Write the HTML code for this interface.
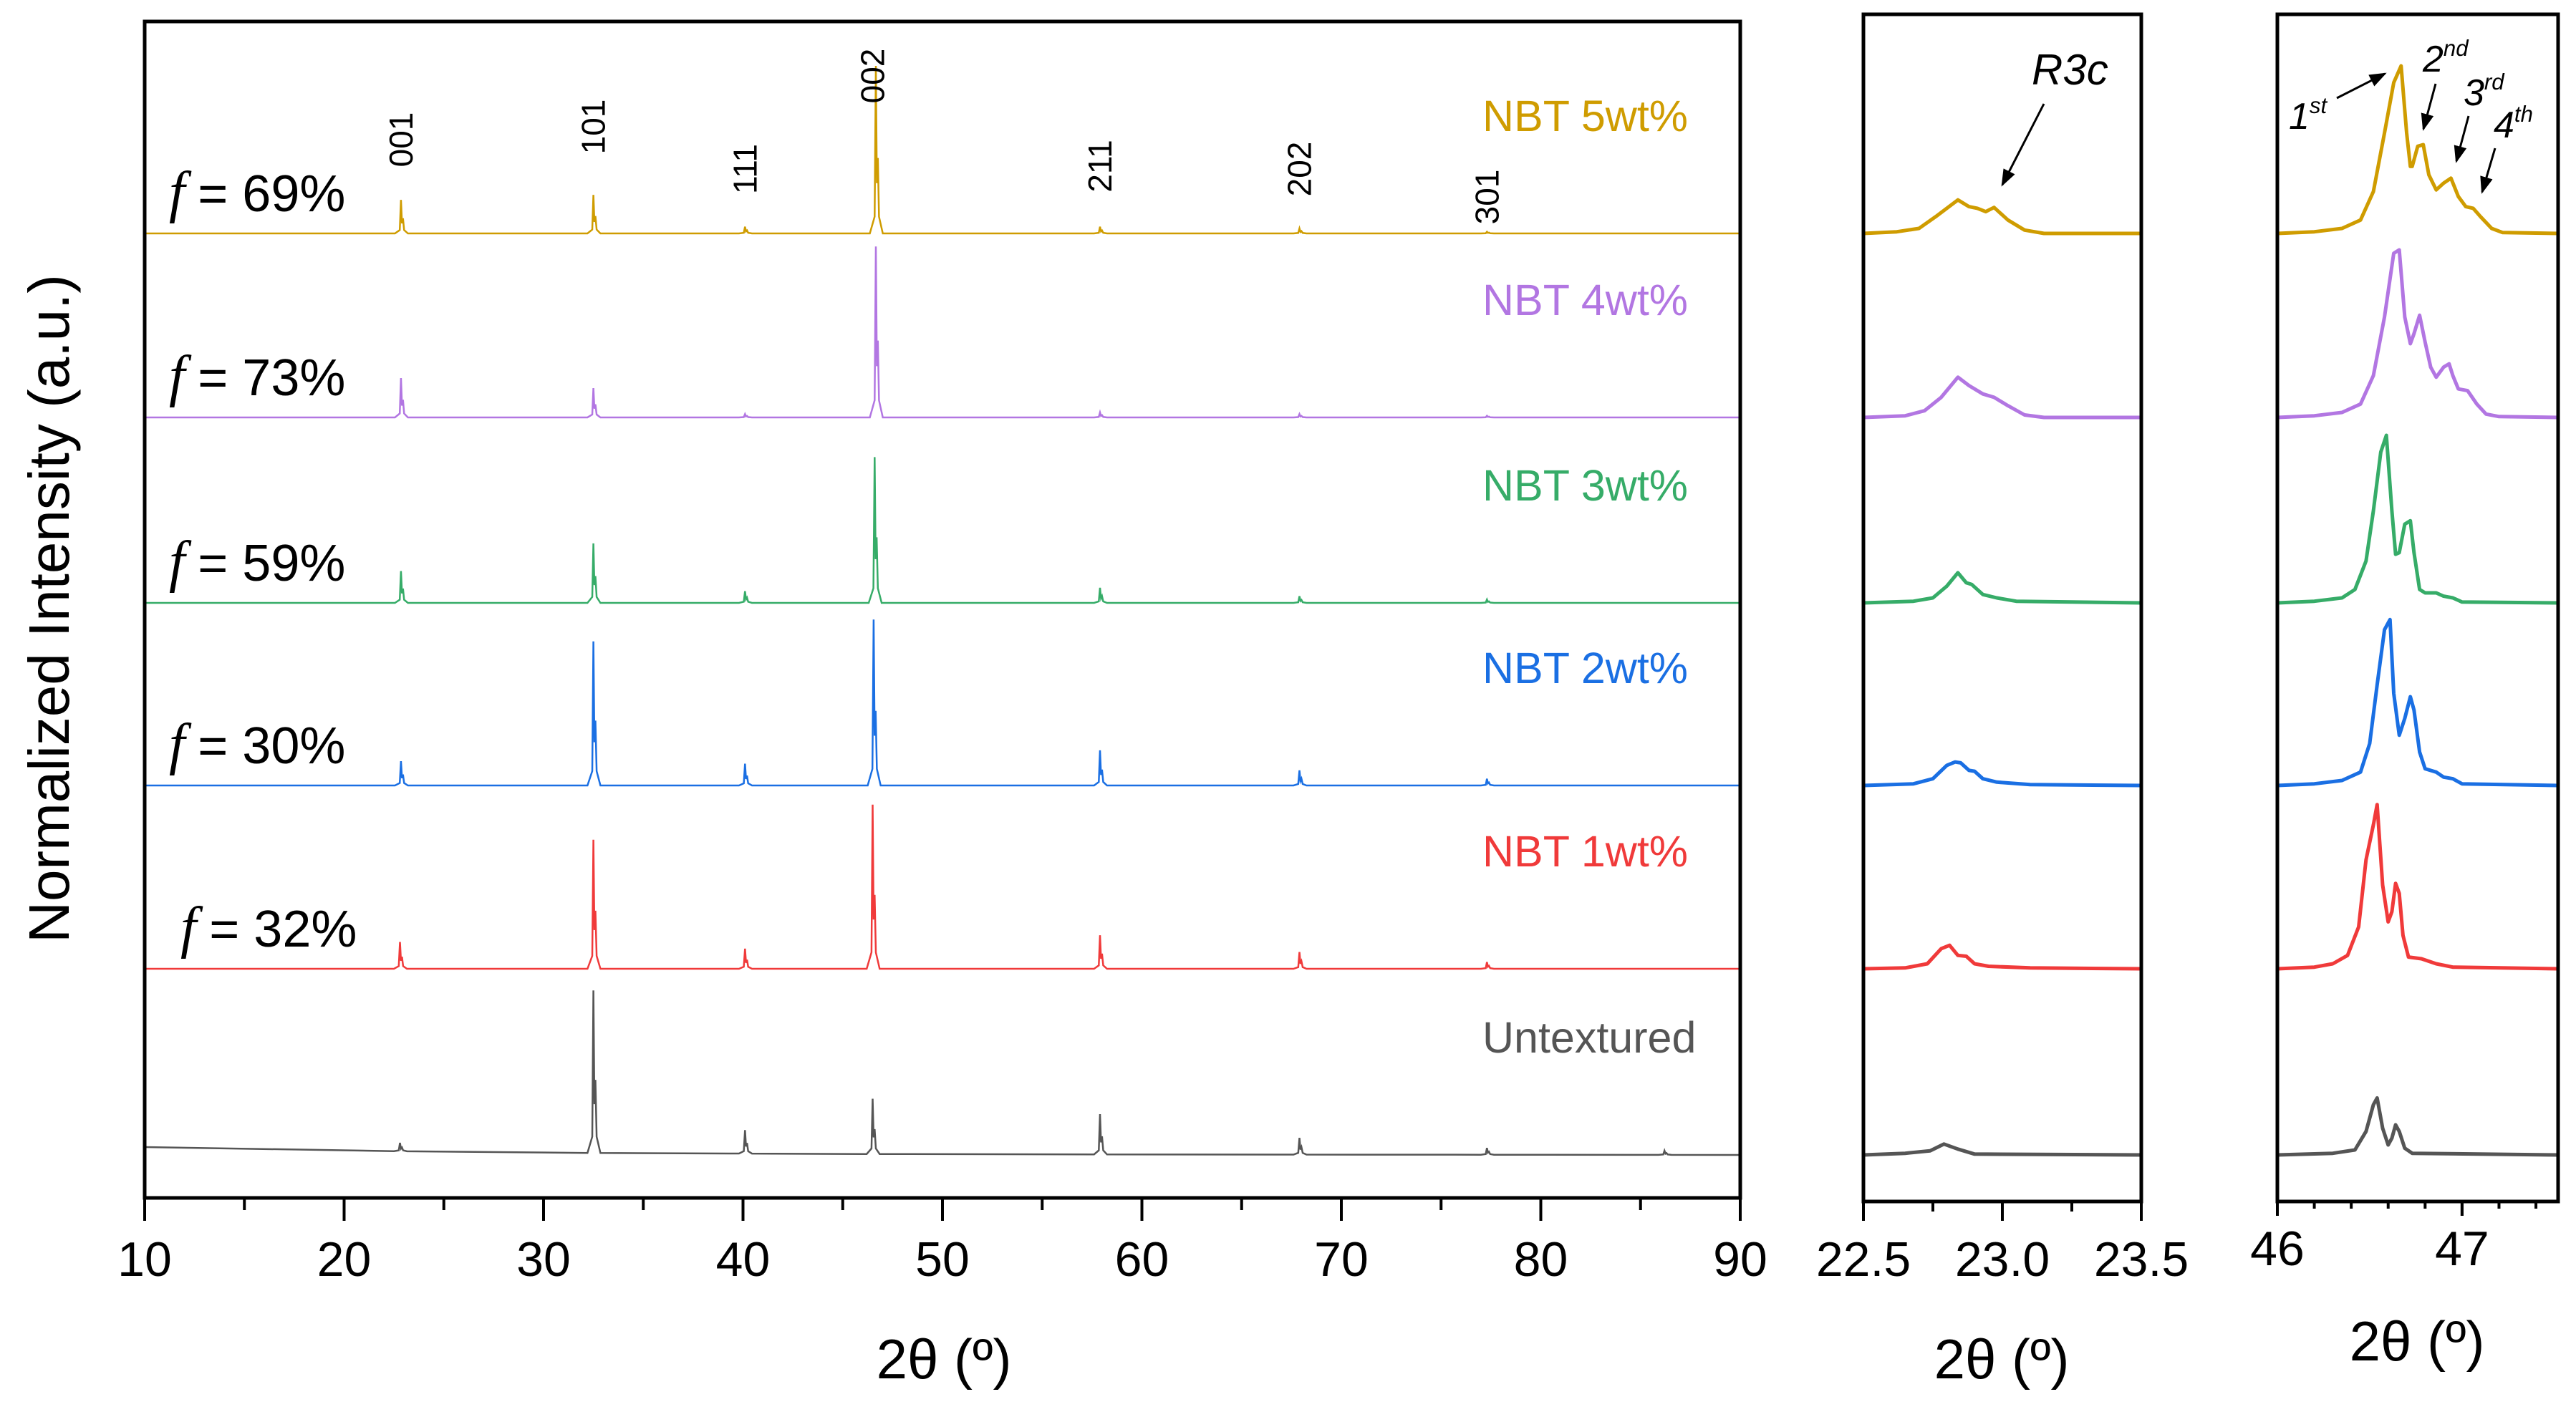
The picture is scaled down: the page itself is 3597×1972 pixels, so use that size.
<!DOCTYPE html>
<html><head><meta charset="utf-8"><style>
html,body{margin:0;padding:0;background:#fff;}
svg{display:block;font-family:"Liberation Sans",sans-serif;}
</style></head><body>
<svg id="chart" width="3597" height="1972" viewBox="0 0 3597 1972" xmlns="http://www.w3.org/2000/svg">
<g id="main"></g>
<g id="p2"></g>
<g id="p3"></g>
<text transform="translate(96,850) rotate(-90)" text-anchor="middle" font-size="80">Normalized Intensity (a.u.)</text>
<text x="1318" y="1925" text-anchor="middle" font-size="78">2θ (º)</text>
<text x="2795" y="1925" text-anchor="middle" font-size="78">2θ (º)</text>
<text x="3375" y="1900" text-anchor="middle" font-size="78">2θ (º)</text>
</svg>
<script>
// ---- data ----
const seriesNames = ["NBT 5wt%","NBT 4wt%","NBT 3wt%","NBT 2wt%","NBT 1wt%","Untextured"];
const seriesColors = ["#cf9c00","#b276e2","#36ac68","#1a6fe3","#f03a3a","#555555"];
const fLabels = ["= 69%","= 73%","= 59%","= 30%","= 32%",null];
const peakPos5 = [22.85,32.5,40.1,46.66,57.9,67.9,77.3];
const peakH5 = [20,23,4,100,4,3,1];
const peakPos4 = [22.85,32.5,40.1,46.66,57.9,67.9,77.3];
const peakH4 = [23.5,17.5,2,102,3,2,1];
const peakPos3 = [22.85,32.5,40.1,46.6,57.9,67.9,77.3];
const peakH3 = [19,35.5,7,87,9,4,2];
const peakPos2 = [22.85,32.5,40.1,46.55,57.9,67.9,77.3];
const peakH2 = [14.5,86,13,99,21,9,4];
const peakPos1 = [22.8,32.5,40.1,46.5,57.9,67.9,77.3];
const peakH1 = [16,77,12,98,20,10,4];
const peakPosU = [22.8,32.5,40.1,46.5,57.9,67.9,77.3,86.2];
const peakHU = [5,97,14,33,24,10,4,2.5];
const bgX = [10,20,30,50,90];
const bgU = [4.7,2.6,1.3,0.4,0];
const hklLabels = ["001","101","111","002","211","202","301"];
const hklPos = [22.85,32.5,40.1,46.5,57.9,67.9,77.3];
const mainTicks = [10,20,30,40,50,60,70,80,90];
const p2Ticks = ["22.5","23.0","23.5"];
const p3Ticks = ["46","47"];
const ins2Gold = [[22.5,0],[22.62,1],[22.7,3],[22.76,10],[22.84,20],[22.88,16],[22.91,15],[22.94,13],[22.97,15.5],[23.02,8],[23.08,2],[23.15,0],[23.5,0]];
const ins2Purple = [[22.5,0],[22.65,1],[22.72,4],[22.78,12],[22.84,24],[22.88,19],[22.93,14],[22.97,12],[23.02,7],[23.08,1.5],[23.15,0],[23.5,0]];
const ins2Green = [[22.5,0],[22.68,1],[22.75,3],[22.8,10],[22.84,18],[22.87,12],[22.89,11],[22.93,5],[22.98,3],[23.05,1],[23.5,0]];
const ins2Blue = [[22.5,0],[22.68,1],[22.75,4],[22.8,12],[22.83,14],[22.85,13.5],[22.88,9],[22.9,8.5],[22.93,4],[22.98,2],[23.1,0.5],[23.5,0]];
const ins2Red = [[22.5,0],[22.65,0.5],[22.73,3],[22.78,12],[22.81,14],[22.84,8],[22.87,7.5],[22.9,3],[22.95,1.5],[23.1,0.5],[23.5,0]];
const ins2Gray = [[22.5,0],[22.65,1],[22.74,2.5],[22.79,6.5],[22.84,3.5],[22.9,0.5],[23.5,0]];
const ins3Gold = [[46,0],[46.2,1],[46.35,3],[46.45,8],[46.52,25],[46.58,60],[46.63,90],[46.67,100],[46.7,60],[46.72,40],[46.73,40],[46.76,52],[46.79,53],[46.82,35],[46.86,26],[46.9,30],[46.94,33],[46.98,22],[47.02,16],[47.06,15],[47.1,10],[47.16,3],[47.22,0.5],[47.52,0]];
const ins3Purple = [[46,0],[46.2,1],[46.35,3],[46.45,8],[46.52,25],[46.58,60],[46.63,98],[46.66,100],[46.69,60],[46.72,44],[46.74,50],[46.77,61],[46.8,45],[46.83,30],[46.86,24],[46.9,30],[46.93,32],[46.95,25],[46.98,17],[47.03,16],[47.08,8],[47.13,2],[47.2,0.5],[47.52,0]];
const ins3Green = [[46,0],[46.2,1],[46.35,3],[46.42,8],[46.48,25],[46.52,55],[46.56,90],[46.59,100],[46.62,55],[46.64,29],[46.66,30],[46.69,47],[46.72,49],[46.74,30],[46.77,8],[46.8,6],[46.86,6],[46.9,4],[46.95,3],[47.0,0.5],[47.52,0]];
const ins3Blue = [[46,0],[46.2,1],[46.35,3],[46.45,8],[46.5,25],[46.54,60],[46.58,93],[46.61,99],[46.63,55],[46.66,30],[46.69,40],[46.72,53],[46.74,45],[46.77,20],[46.8,10],[46.86,8],[46.9,5],[46.95,4],[47.0,1],[47.52,0]];
const ins3Red = [[46,0],[46.2,1],[46.3,3],[46.38,8],[46.44,25],[46.48,65],[46.52,86],[46.54,98],[46.57,50],[46.6,28],[46.62,34],[46.64,51],[46.66,45],[46.68,20],[46.71,7],[46.78,6],[46.86,3],[46.95,1],[47.52,0]];
const ins3Gray = [[46,0],[46.3,1],[46.42,3],[46.48,14],[46.52,30],[46.54,34],[46.57,16],[46.6,6],[46.62,10],[46.64,18],[46.66,14],[46.69,4],[46.73,1],[47.52,0]];

// ---- layout ----
const NS = "http://www.w3.org/2000/svg";
const baseY = [326,583,842,1097,1353,1613];
const K = 2.34;
const M = {x0:202,x1:2430,y0:30,y1:1673,d0:10,d1:90};
const P2 = {x0:2602,x1:2990,y0:20,y1:1678,d0:22.5,d1:23.5};
const P3 = {x0:3180,x1:3572,y0:20,y1:1678,d0:46,d1:47.52};
const sx = (p,v) => p.x0 + (v - p.d0) / (p.d1 - p.d0) * (p.x1 - p.x0);
const sy = (i,v) => baseY[i] - v * K;
function mk(parent, tag, attrs){const e=document.createElementNS(NS,tag);for(const k in attrs)e.setAttribute(k,attrs[k]);parent.appendChild(e);return e;}
function interp(xs,ys,x){if(x<=xs[0])return ys[0];for(let i=1;i<xs.length;i++){if(x<=xs[i]){const t=(x-xs[i-1])/(xs[i]-xs[i-1]);return ys[i-1]+t*(ys[i]-ys[i-1]);}}return ys[ys.length-1];}

const main = document.getElementById('main');
const p2 = document.getElementById('p2');
const p3 = document.getElementById('p3');
const peakSets = [[peakPos5,peakH5],[peakPos4,peakH4],[peakPos3,peakH3],[peakPos2,peakH2],[peakPos1,peakH1],[peakPosU,peakHU]];
const shape = [[-0.3,0],[-0.06,0.1],[0,1],[0.05,0.3],[0.1,0.45],[0.16,0.1],[0.35,0]];

peakSets.forEach((ps,i)=>{
  const pos=ps[0], h=ps[1];
  let pts=[];
  const bg = x => i===5 ? interp(bgX,bgU,x) : 0;
  pts.push([10,bg(10)]);
  pos.forEach((p,j)=>{shape.forEach(s=>{const x=p+s[0];pts.push([x,bg(x)+h[j]*s[1]]);});});
  pts.push([90,bg(90)]);
  pts.sort((a,b)=>a[0]-b[0]);
  const pl = mk(main,'polyline',{points:pts.map(q=>sx(M,q[0]).toFixed(1)+','+sy(i,q[1]).toFixed(1)).join(' '),fill:'none',stroke:seriesColors[i],'stroke-width':2.5});
  
  
  const lg = mk(main,'text',{x:2070,y:baseY[i]-143,'font-size':61,fill:seriesColors[i]});
  lg.textContent = seriesNames[i];
  
  
  if(fLabels[i]){
    const ft = mk(main,'text',{x:(i===4?252:236),y:baseY[i]-31,'font-size':72});
    
    
    const f1 = mk(ft,'tspan',{'font-style':'italic','font-family':'Liberation Serif, serif','font-size':80}); f1.textContent='f';
    const f2 = mk(ft,'tspan',{dx:18}); f2.textContent=fLabels[i];
  }
});
const tinyY = [195,177,236,106,232,236,275];
hklLabels.forEach((l,j)=>{
  const t = mk(main,'text',{transform:`translate(${sx(M,hklPos[j])+16},${tinyY[j]}) rotate(-90)`,'text-anchor':'middle','font-size':46});
  t.textContent = l;
  
  
});
function frame(g,p,name){const r=mk(g,'rect',{x:p.x0,y:p.y0,width:p.x1-p.x0,height:p.y1-p.y0,fill:'none',stroke:'#000','stroke-width':5});
  
  }
frame(main,M,'main-frame');
mainTicks.forEach(v=>{
  mk(main,'line',{x1:sx(M,v),x2:sx(M,v),y1:M.y1,y2:M.y1+32,stroke:'#000','stroke-width':4});
  const t=mk(main,'text',{x:sx(M,v),y:1782,'text-anchor':'middle','font-size':68}); t.textContent=v;
  
  
  if(v<90) mk(main,'line',{x1:sx(M,v+5),x2:sx(M,v+5),y1:M.y1,y2:M.y1+17,stroke:'#000','stroke-width':4});
});
const ins2 = [ins2Gold,ins2Purple,ins2Green,ins2Blue,ins2Red,ins2Gray];
const ins3 = [ins3Gold,ins3Purple,ins3Green,ins3Blue,ins3Red,ins3Gray];
[[p2,P2,ins2,'inset22'],[p3,P3,ins3,'inset46']].forEach(([g,P,data,nm])=>{
  data.forEach((d,i)=>{
    const pl=mk(g,'polyline',{points:d.map(q=>sx(P,q[0]).toFixed(1)+','+sy(i,q[1]).toFixed(1)).join(' '),fill:'none',stroke:seriesColors[i],'stroke-width':5,'stroke-linejoin':'round'});
    
    
  });
  frame(g,P,nm+'-frame');
});
p2Ticks.forEach((l,j)=>{
  const v=parseFloat(l);
  mk(p2,'line',{x1:sx(P2,v),x2:sx(P2,v),y1:P2.y1,y2:P2.y1+27,stroke:'#000','stroke-width':4});
  const t=mk(p2,'text',{x:sx(P2,v),y:1782,'text-anchor':'middle','font-size':68}); t.textContent=l;
  
  
  if(j<2) mk(p2,'line',{x1:sx(P2,v+0.25),x2:sx(P2,v+0.25),y1:P2.y1,y2:P2.y1+14,stroke:'#000','stroke-width':4});
});
for(let k=1;k<8;k++){const v=46+k*0.2; mk(p3,'line',{x1:sx(P3,v),x2:sx(P3,v),y1:P3.y1,y2:P3.y1+(k===5?20:10),stroke:'#000','stroke-width':4});}
p3Ticks.forEach(l=>{
  const v=parseFloat(l);
  mk(p3,'line',{x1:sx(P3,v),x2:sx(P3,v),y1:P3.y1,y2:P3.y1+20,stroke:'#000','stroke-width':4});
  const t=mk(p3,'text',{x:sx(P3,v),y:1767,'text-anchor':'middle','font-size':68}); t.textContent=l;
  
  
});
const defs=mk(document.getElementById('chart'),'defs',{});
const mkr=mk(defs,'marker',{id:'ah',markerWidth:8,markerHeight:8,refX:7,refY:4,orient:'auto',markerUnits:'strokeWidth'});
mk(mkr,'path',{d:'M0,1 L8,4 L0,7 Z',fill:'#000'});
function arrow(x1,y1,x2,y2,name){const l=mk(p3.parentNode,'line',{x1,y1,x2,y2,stroke:'#000','stroke-width':3,'marker-end':'url(#ah)'});
  
  }
function label(x,y,main,sup,name,fs){const t=mk(p3.parentNode,'text',{x,y,'font-size':fs,'font-style':'italic'});
  
  
  const a=mk(t,'tspan',{});a.textContent=main;
  if(sup){const b=mk(t,'tspan',{dy:-22,'font-size':fs*0.6});b.textContent=sup;}}
label(2837,118,'R3c',null,'r3c-annotation',60);
arrow(2854,145,2796,258,'r3c-arrow');
label(3196,180,'1','st','peak-1st-label',52);
arrow(3263,137,3330,103,'peak-1st-arrow');
label(3383,100,'2','nd','peak-2nd-label',52);
arrow(3401,117,3384,180,'peak-2nd-arrow');
label(3440,147,'3','rd','peak-3rd-label',52);
arrow(3447,162,3430,225,'peak-3rd-arrow');
label(3482,192,'4','th','peak-4th-label',52);
arrow(3484,207,3466,268,'peak-4th-arrow');
</script>
</body></html>
